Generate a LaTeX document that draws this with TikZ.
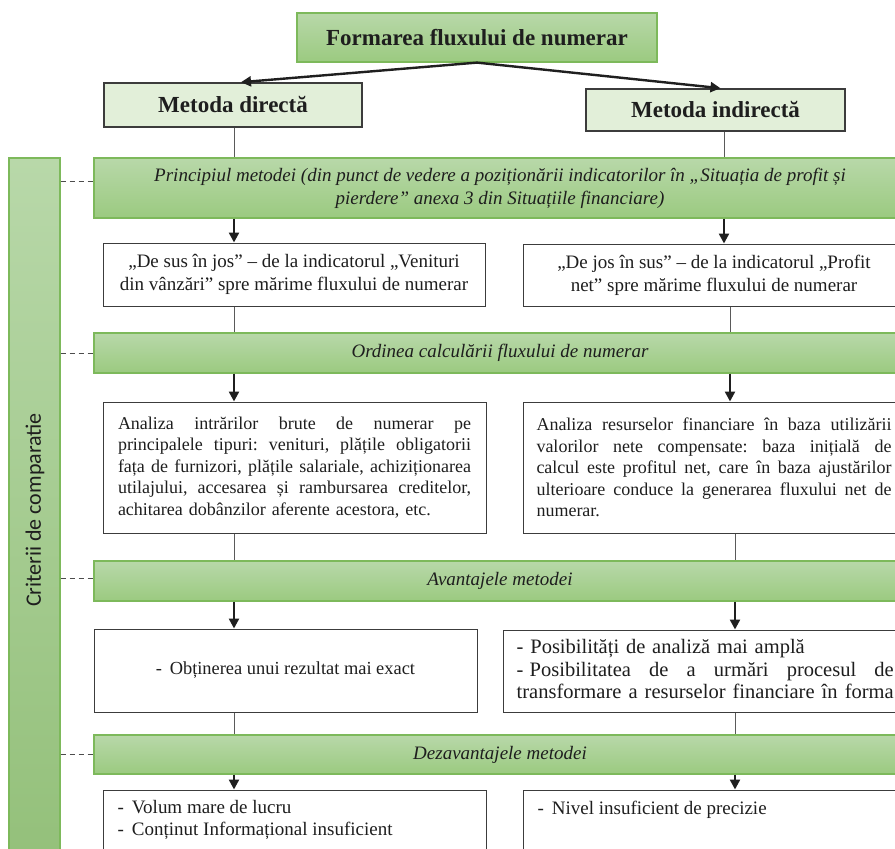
\documentclass[tikz,border=0pt]{standalone}
\usepackage{fontspec}
\setmainfont{Liberation Serif}
\newfontfamily\critfont{Carlito}
\usetikzlibrary{arrows.meta,calc}
\definecolor{gtop}{HTML}{B8D8A9}
\definecolor{gbot}{HTML}{9BCA80}
\definecolor{gborder}{HTML}{7DB95B}
\definecolor{lightg}{HTML}{E2EFD9}
\definecolor{boxline}{HTML}{3C3C3C}
\definecolor{txt}{HTML}{1E1E1E}
\definecolor{conn}{HTML}{5A5A5A}
\newcommand{\jline}[2]{{\frenchspacing\spaceskip=0pt\xspaceskip=0pt\makebox[#1][s]{#2}}}
\begin{document}
\begin{tikzpicture}[x=1pt,y=-1pt,
  band/.style={draw=gborder, line width=1.2pt, top color=gtop, bottom color=gbot,
    inner sep=0pt, minimum width=812pt, text=txt, align=center,
    font=\fontsize{19}{23}\selectfont\itshape},
  plainbox/.style={draw=boxline, line width=1pt, fill=white, inner sep=0pt, text=txt,
    font=\fontsize{19}{23}\selectfont},
  headbox/.style={draw=boxline, line width=1.6pt, fill=lightg, inner sep=0pt, text=txt,
    font=\fontsize{23}{27}\selectfont\bfseries},
  topbox/.style={draw=gborder, line width=1.2pt, top color=gtop, bottom color=gbot,
    inner sep=0pt, text=txt, font=\fontsize{23}{27}\selectfont\bfseries},
  conline/.style={draw=conn, line width=0.9pt},
  arr/.style={draw=black!88, line width=2.4pt, -{Triangle[length=10pt,width=10pt]}},
  critdash/.style={draw=black!70, line width=1pt, dash pattern=on 5pt off 4pt},
  boxtext/.style={anchor=north west, inner sep=0pt, text=txt, align=left}
]
\clip (0,0) rectangle (895,849);
\fill[white] (0,0) rectangle (895,849);

% column x positions
\coordinate (L) at (234,0);
\coordinate (R1) at (724,0);
\coordinate (R2) at (730,0);
\coordinate (R3) at (735,0);

% header
\node[topbox, minimum width=360pt, minimum height=49pt] (top) at (477,37.5) {Formarea fluxului de numerar};
\node[headbox, minimum width=258pt, minimum height=44pt] (md) at (233,105) {Metoda directă};
\node[headbox, minimum width=259pt, minimum height=42pt] (mi) at (715.5,110) {Metoda indirectă};

% left criteria band
\node[draw=gborder, line width=1.2pt, top color=gtop, bottom color=gbot!95!black,
  minimum width=51pt, minimum height=712pt, inner sep=0pt] (lb) at (34.5,514) {};
\node[rotate=90, inner sep=0pt, text=txt, font=\critfont\fontsize{22}{26}\selectfont] (crit) at (35,510) {Criterii de comparatie};

% bands
\node[band, minimum height=60pt] (b1) at (500,188) {Principiul metodei (din punct de vedere a poziționării indicatorilor în „Situația de profit și\\ pierdere” anexa 3 din Situațiile financiare)};
\node[band, minimum height=40pt] (b2) at (500,353) {Ordinea calculării fluxului de numerar};
\node[band, minimum height=40pt] (b3) at (500,581) {Avantajele metodei};
\node[band, minimum height=39pt] (b4) at (500,754.5) {Dezavantajele metodei};

% row 1
\node[plainbox, minimum width=382pt, minimum height=63pt, align=center] (ds) at (294,274.5) {„De sus în jos” – de la indicatorul „Venituri\\ din vânzări” spre mărime fluxului de numerar};
\node[plainbox, minimum width=382pt, minimum height=62pt, align=center] (dj) at (714,275) {„De jos în sus” – de la indicatorul „Profit\\ net” spre mărime fluxului de numerar};

% row 2
\node[plainbox, font=\fontsize{18}{21.5}\selectfont, minimum width=383pt, minimum height=131pt, text width=353pt, align=left] (ai) at (294.5,467.5) {%
\jline{353pt}{Analiza intrărilor brute de numerar pe}\\
\jline{353pt}{principalele tipuri: venituri, plățile obligatorii}\\
\jline{353pt}{fața de furnizori, plățile salariale, achiziționarea}\\
\jline{353pt}{utilajului, accesarea și rambursarea creditelor,}\\
achitarea dobânzilor aferente acestora, etc.};
\node[plainbox, font=\fontsize{18}{21.5}\selectfont, minimum width=382pt, minimum height=131pt, text width=355pt, align=left] (ar) at (714,467.5) {%
\jline{355pt}{Analiza resurselor financiare în baza utilizării}\\
\jline{355pt}{valorilor nete compensate: baza inițială de}\\
\jline{355pt}{calcul este profitul net, care în baza ajustărilor}\\
\jline{355pt}{ulterioare conduce la generarea fluxului net de}\\
numerar.};

% row 3
\node[plainbox, font=\fontsize{18.4}{22}\selectfont, minimum width=383pt, minimum height=83pt] (ob) at (285.5,670.5) {- \,Obținerea unui rezultat mai exact};
\node[plainbox, minimum width=402pt, minimum height=82pt] (po) at (704,671) {};
\node[boxtext, font=\fontsize{20.5}{22.5}\selectfont, text width=377pt] (pot) at ($(po.north west)+(14,10)$) {%
- Posibilități de analiză mai amplă\\
\jline{377pt}{-\kern0.3em Posibilitatea de a urmări procesul de}\\
\jline{377pt}{transformare a resurselor financiare în forma}};

% row 4
\node[plainbox, minimum width=383pt, minimum height=80pt] (vl) at (294.5,830) {};
\node[plainbox, minimum width=382pt, minimum height=80pt] (ni) at (714,830) {};
\node[boxtext, font=\fontsize{19}{22}\selectfont] (vlt) at ($(vl.north west)+(15,11)$) {- \,Volum mare de lucru\\ - \,Conținut Informațional insuficient};
\node[boxtext, font=\fontsize{19}{22}\selectfont] (nit) at ($(ni.north west)+(15,11)$) {- \,Nivel insuficient de precizie};

% header arrows
\draw[arr] (top.south) -- ($(md.north)+(8,0)$);
\draw[arr] (top.south) -- ($(mi.north)+(5,0)$);

% connectors
\draw[conline] (L |- md.south) -- (L |- b1.north);
\draw[conline] (R1 |- mi.south) -- (R1 |- b1.north);
\draw[arr] (L |- b1.south) -- (L |- ds.north);
\draw[arr] (R1 |- b1.south) -- (R1 |- dj.north);
\draw[conline] (L |- ds.south) -- (L |- b2.north);
\draw[conline] (R2 |- dj.south) -- (R2 |- b2.north);
\draw[arr] (L |- b2.south) -- (L |- ai.north);
\draw[arr] (R2 |- b2.south) -- (R2 |- ar.north);
\draw[conline] (L |- ai.south) -- (L |- b3.north);
\draw[conline] (R3 |- ar.south) -- (R3 |- b3.north);
\draw[arr] (L |- b3.south) -- (L |- ob.north);
\draw[arr] (R3 |- b3.south) -- (R3 |- po.north);
\draw[conline] (L |- ob.south) -- (L |- b4.north);
\draw[conline] (R3 |- po.south) -- (R3 |- b4.north);
\draw[arr] (L |- b4.south) -- (L |- vl.north);
\draw[arr] (R3 |- b4.south) -- (R3 |- ni.north);

% dashed criteria links
\draw[critdash] (lb.east |- 0,181) -- ($(b1.west)+(0,-7)$);
\draw[critdash] (lb.east |- b2.west) -- (b2.west);
\draw[critdash] (lb.east |- 0,578) -- ($(b3.west)+(0,-3)$);
\draw[critdash] (lb.east |- b4.west) -- (b4.west);
\end{tikzpicture}
\end{document}
